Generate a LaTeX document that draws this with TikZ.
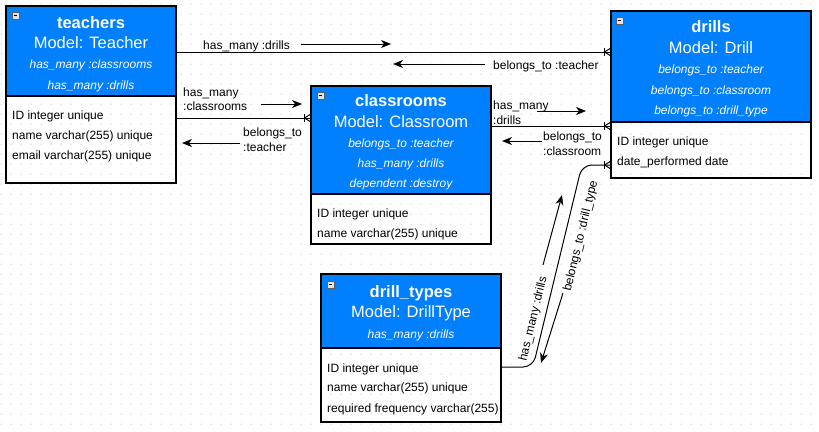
\documentclass[tikz,border=0pt]{standalone}
\usepackage{fontspec}
\setmainfont{Liberation Sans}
\usetikzlibrary{arrows.meta,calc}
\definecolor{hdr}{HTML}{007FFF}
\definecolor{dotc}{HTML}{C4C4C4}
\tikzset{
  ebox/.style={draw=black, line width=2pt, rectangle, inner sep=0pt, outer sep=0pt, anchor=north west},
  sepline/.style={draw=black, line width=2pt},
  ttl/.style={font=\fontsize{16.5}{18}\selectfont\bfseries, text=white, anchor=base, inner sep=0pt},
  model/.style={font=\fontsize{16.5}{18}\selectfont, text=white, anchor=base, inner sep=0pt},
  rel/.style={font=\fontsize{12}{14}\selectfont\itshape, text=white, anchor=base, inner sep=0pt},
  attr/.style={font=\fontsize{12}{14}\selectfont, text=black, anchor=base west, inner sep=0pt},
  lbl/.style={font=\fontsize{12}{14}\selectfont, text=black, anchor=base west, inner sep=0pt},
  rlbl/.style={font=\fontsize{12}{14}\selectfont, text=black, inner sep=0pt, text height=8.6pt, text depth=2.4pt, anchor=center},
  conn/.style={draw=black, line width=1pt},
  hint/.style={draw=black, line width=1pt, -{Stealth[length=10pt,width=8pt,inset=3pt]}},
  crow/.pic={
    \draw[conn] (-6.5,-4) -- (-6.5,4);
    \draw[conn] (0,-4) -- (-6.5,0) -- (0,4);
  },
  icon/.pic={
    \draw[fill=gray!22, draw=gray!75!black, line width=0.8pt] (0,0) rectangle (7,7);
    \draw[black, line width=1.3pt] (1.6,3.5) -- (5.4,3.5);
  }
}
\begin{document}
\begin{tikzpicture}[x=1pt, y=-1pt]
\useasboundingbox (0,0) rectangle (819,431);
% dotted grid background
\fill[dotc] foreach \x in {1,11,...,811} { foreach \y in {4,14,...,424} { ({\x-0.5},{\y-0.5}) rectangle ++(1,1) } };

% ---------------- teachers ----------------
\fill[hdr] (6,6) rectangle (176,96);
\node[ebox, minimum width=170pt, minimum height=177pt] (teachers) at (6,6) {};
\draw[sepline] (teachers.west |- 0,96) -- (teachers.east |- 0,96);
\pic at (12,12) {icon};
\node[ttl]   (t1) at (91,28) {teachers};
\node[model] (t2) at (91,48) {Model: Teacher};
\node[rel]   (t3) at (91,68) {has\_many :classrooms};
\node[rel]   (t4) at (91,89) {has\_many :drills};
\node[attr]  (t5) at (12,119) {ID integer unique};
\node[attr]  (t6) at (12,139) {name varchar(255) unique};
\node[attr]  (t7) at (12,159) {email varchar(255) unique};

% ---------------- classrooms ----------------
\fill[hdr] (311,86) rectangle (491,194);
\node[ebox, minimum width=180pt, minimum height=158pt] (classrooms) at (311,86) {};
\draw[sepline] (classrooms.west |- 0,194) -- (classrooms.east |- 0,194);
\pic at (317,92) {icon};
\node[ttl]   (c1) at (401,106) {classrooms};
\node[model] (c2) at (401,127) {Model: Classroom};
\node[rel]   (c3) at (401,147) {belongs\_to :teacher};
\node[rel]   (c4) at (401,167) {has\_many :drills};
\node[rel]   (c5) at (401,187) {dependent :destroy};
\node[attr]  (c6) at (317,217) {ID integer unique};
\node[attr]  (c7) at (317,237) {name varchar(255) unique};

% ---------------- drills ----------------
\fill[hdr] (611,11) rectangle (811,122);
\node[ebox, minimum width=200pt, minimum height=167pt] (drills) at (611,11) {};
\draw[sepline] (drills.west |- 0,122) -- (drills.east |- 0,122);
\pic at (616,17) {icon};
\node[ttl]   (d1) at (711,32) {drills};
\node[model] (d2) at (711,53) {Model: Drill};
\node[rel]   (d3) at (711,73) {belongs\_to :teacher};
\node[rel]   (d4) at (711,94) {belongs\_to :classroom};
\node[rel]   (d5) at (711,114) {belongs\_to :drill\_type};
\node[attr]  (d6) at (617,145) {ID integer unique};
\node[attr]  (d7) at (617,165) {date\_performed date};

% ---------------- drill_types ----------------
\fill[hdr] (321,274) rectangle (501,348);
\node[ebox, minimum width=180pt, minimum height=148pt] (drilltypes) at (321,274) {};
\draw[sepline] (drilltypes.west |- 0,348) -- (drilltypes.east |- 0,348);
\pic at (327,281) {icon};
\node[ttl]   (k1) at (411,297) {drill\_types};
\node[model] (k2) at (411,317) {Model: DrillType};
\node[rel]   (k3) at (411,338) {has\_many :drills};
\node[attr]  (k4) at (327,372) {ID integer unique};
\node[attr]  (k5) at (327,391) {name varchar(255) unique};
\node[attr]  (k6) at (327,412) {required frequency varchar(255)};

% ---------------- teachers -- drills ----------------
\draw[conn] (teachers.east |- 0,52) -- (drills.west |- 0,52);
\pic at (drills.west |- 0,52) {crow};
\node[lbl] (l1) at (203,49) {has\_many :drills};
\coordinate (a1s) at (301,44); \coordinate (a1e) at (391,44);
\draw[hint] (a1s) -- (a1e);
\node[lbl] (l2) at (493,69) {belongs\_to :teacher};
\coordinate (a2s) at (485,64); \coordinate (a2e) at (393,64);
\draw[hint] (a2s) -- (a2e);

% ---------------- teachers -- classrooms ----------------
\draw[conn] (teachers.east |- 0,118) -- (classrooms.west |- 0,118);
\pic at (classrooms.west |- 0,118) {crow};
\node[lbl] (l3) at (183,96) {has\_many};
\node[lbl] (l3b) at (183,110) {:classrooms};
\coordinate (a3s) at (261,104); \coordinate (a3e) at (302,104);
\draw[hint] (a3s) -- (a3e);
\node[lbl] (l4) at (243,136) {belongs\_to};
\node[lbl] (l4b) at (243,151) {:teacher};
\coordinate (a4s) at (240,143); \coordinate (a4e) at (182,143);
\draw[hint] (a4s) -- (a4e);

% ---------------- classrooms -- drills ----------------
\draw[conn] (classrooms.east |- 0,126) -- (drills.west |- 0,126);
\pic at (drills.west |- 0,126) {crow};
\node[lbl] (l5) at (493,109) {has\_many};
\node[lbl] (l5b) at (493,124) {:drills};
\coordinate (a5s) at (537,111); \coordinate (a5e) at (586,111);
\draw[hint] (a5s) -- (a5e);
\node[lbl] (l6) at (543,140) {belongs\_to};
\node[lbl] (l6b) at (543,155) {:classroom};
\coordinate (a6s) at (542,141); \coordinate (a6e) at (502,141);
\draw[hint] (a6s) -- (a6e);

% ---------------- drill_types -- drills ----------------
\coordinate (b1) at (533,367);
\coordinate (b2) at (582,165);
\draw[conn, rounded corners=10pt] (drilltypes.east |- 0,367) -- (b1) -- (b2) -- (drills.west |- 0,165);
\pic at (drills.west |- 0,165) {crow};
\node[rlbl, rotate=76.4] (l7) at (533.5,319) {has\_many :drills};
\coordinate (a7s) at (543,265); \coordinate (a7e) at (562,195);
\draw[hint] (a7s) -- (a7e);
\node[rlbl, rotate=76.4] (l8) at (581,236) {belongs\_to :drill\_type};
\coordinate (a8s) at (563,293); \coordinate (a8e) at (541,363);
\draw[hint] (a8s) -- (a8e);
\end{tikzpicture}
\end{document}
